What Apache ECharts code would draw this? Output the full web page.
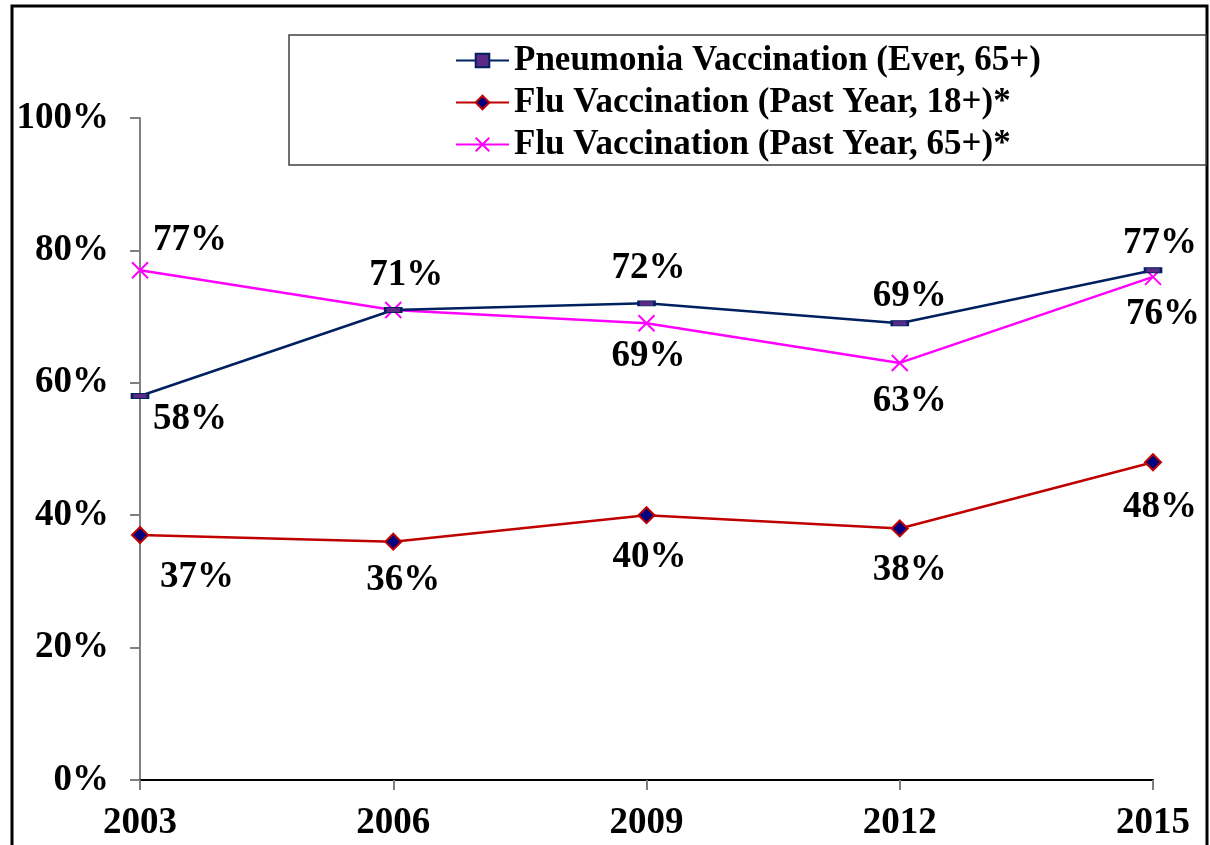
<!DOCTYPE html>
<html>
<head>
<meta charset="utf-8">
<script src="https://cdn.jsdelivr.net/npm/echarts@6/dist/echarts.min.js"></script>
<style>
  html, body { margin: 0; padding: 0; background: #fff; }
  #chart { width: 1210px; height: 845px; }
</style>
</head>
<body>
<div id="chart"></div>
<script>
const years = ['2003', '2006', '2009', '2012', '2015'];
const pneumonia = [58, 71, 72, 69, 77];
const flu18 = [37, 36, 40, 38, 48];
const flu65 = [77, 71, 69, 63, 76];
const yTicks = [0, 20, 40, 60, 80, 100];

// label offsets per point, [dx, dy]; null = no label
const pneumoniaOff = [[50, 23], null, [2, -35], [10, -27], [7, -27]];
const flu18Off = [[57, 42], [10, 39], [3, 42], [10, 42], [7, 45]];
const flu65Off = [[50, -30], [13, -35], [2, 33], [10, 38], [10, 38]];

const font = '"Liberation Serif", "Times New Roman", serif';

function withLabels(values, offs) {
    return values.map((v, i) => ({
        value: v,
        label: offs[i] ? { show: true, offset: offs[i] } : { show: false }
    }));
}

const labelStyle = {
    position: 'inside',
    formatter: '{c}%',
    color: '#000',
    fontFamily: font,
    fontWeight: 'bold',
    fontSize: 37
};

const myChart = echarts.init(document.getElementById('chart'));

myChart.setOption({
    animation: false,
    backgroundColor: '#fff',
    graphic: [
        {
            type: 'rect',
            shape: { x: 12, y: 6, width: 1195, height: 900 },
            style: { fill: 'none', stroke: '#000', lineWidth: 3 },
            z: -1
        },
        {
            type: 'rect',
            shape: { x: 289, y: 35, width: 917, height: 130 },
            style: { fill: '#fff', stroke: '#404040', lineWidth: 1.5 },
            z: 0
        }
    ],
    legend: {
        left: 450,
        top: 38,
        orient: 'vertical',
        itemWidth: 53,
        itemHeight: 17,
        itemGap: 7,
        z: 5,
        textStyle: {
            color: '#000',
            fontFamily: font,
            fontWeight: 'bold',
            fontSize: 35
        }
    },
    grid: { left: 140, right: 57, top: 118, bottom: 65 },
    xAxis: {
        type: 'category',
        data: years,
        boundaryGap: false,
        axisLine: { lineStyle: { color: '#000', width: 2 } },
        axisTick: { show: true, length: 10, lineStyle: { color: '#808080', width: 2 } },
        axisLabel: {
            color: '#000',
            fontFamily: font,
            fontWeight: 'bold',
            fontSize: 37,
            margin: 25
        },
        splitLine: { show: false }
    },
    yAxis: {
        type: 'value',
        min: yTicks[0],
        max: yTicks[yTicks.length - 1],
        interval: 20,
        axisLine: { show: true, lineStyle: { color: '#808080', width: 2 } },
        axisTick: { show: true, length: 10, lineStyle: { color: '#808080', width: 2 } },
        axisLabel: {
            formatter: '{value}%',
            color: '#000',
            fontFamily: font,
            fontWeight: 'bold',
            fontSize: 37,
            margin: 31
        },
        splitLine: { show: false }
    },
    series: [
        {
            name: 'Pneumonia Vaccination (Ever, 65+)',
            type: 'line',
            data: withLabels(pneumonia, pneumoniaOff),
            symbol: 'rect',
            symbolSize: [16, 5],
            lineStyle: { color: '#002060', width: 2.5 },
            itemStyle: { color: '#5B2A86', borderColor: '#002060', borderWidth: 1.5 },
            label: labelStyle,
            z: 3
        },
        {
            name: 'Flu Vaccination (Past Year, 18+)*',
            type: 'line',
            data: withLabels(flu18, flu18Off),
            symbol: 'diamond',
            symbolSize: 16,
            lineStyle: { color: '#C00000', width: 2.5 },
            itemStyle: { color: '#000080', borderColor: '#C00000', borderWidth: 2 },
            label: labelStyle,
            z: 3
        },
        {
            name: 'Flu Vaccination (Past Year, 65+)*',
            type: 'line',
            data: withLabels(flu65, flu65Off),
            symbol: 'path://M0,0L10,10M10,0L0,10',
            symbolSize: 16,
            lineStyle: { color: '#FF00FF', width: 2.5 },
            itemStyle: { color: '#FF00FF', borderColor: '#FF00FF', borderWidth: 2 },
            label: labelStyle,
            z: 2
        }
    ]
});
</script>
</body>
</html>
